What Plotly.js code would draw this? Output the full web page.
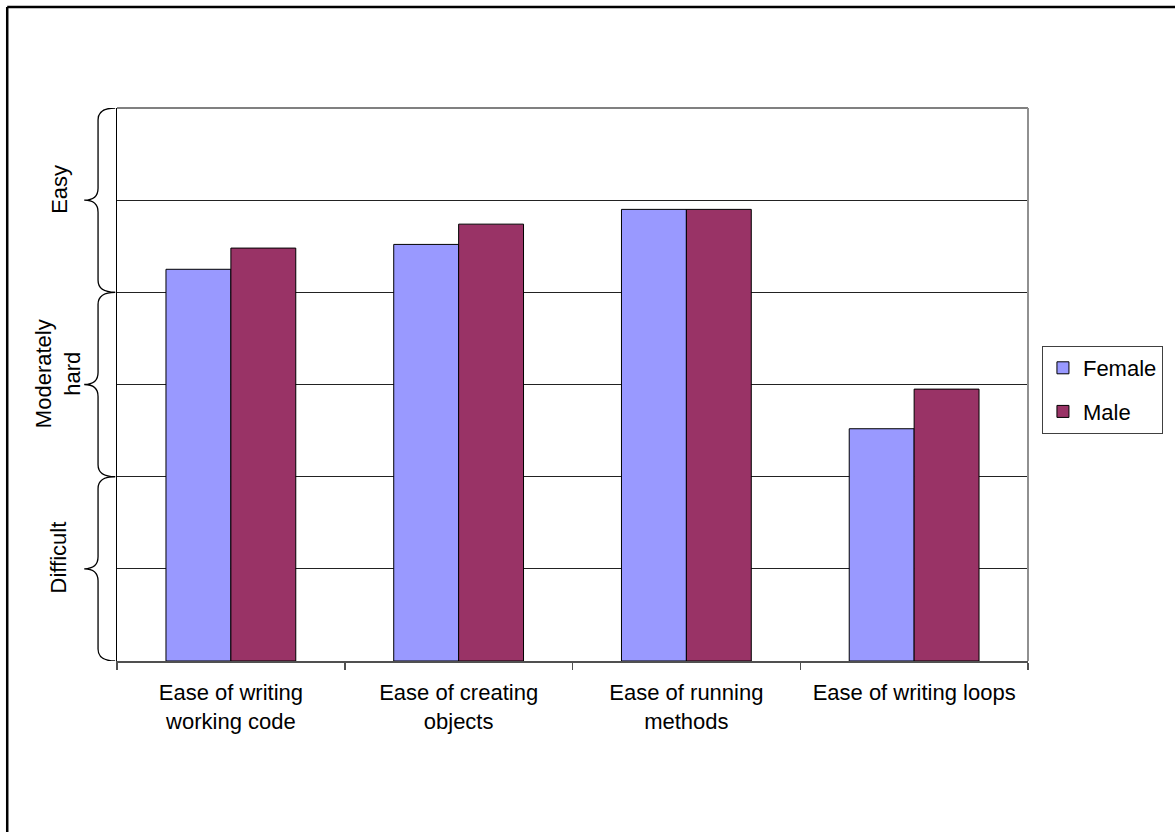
<!DOCTYPE html>
<html>
<head>
<meta charset="utf-8">
<script src="https://cdn.plot.ly/plotly-3.0.1.min.js"></script>
<style>html,body{margin:0;padding:0;background:#fff;}#chart{width:1175px;height:832px;}</style>
</head>
<body>
<div id="chart"></div>
<script>
const categories = ["Ease of writing<br>working code", "Ease of creating<br>objects", "Ease of running<br>methods", "Ease of writing loops"];
const femaleValues = [4.25, 4.52, 4.90, 2.52];
const maleValues = [4.48, 4.74, 4.90, 2.95];
const bands = [
  {label: "Difficult", from: 0, to: 2},
  {label: "Moderately<br>hard", from: 2, to: 4},
  {label: "Easy", from: 4, to: 6}
];

const FONT = "Liberation Sans, Arial, sans-serif";

const traces = [
  {type: "bar", name: "Female", x: categories, y: femaleValues, legendgroup: "f",
   marker: {color: "#9999FF", line: {color: "#000000", width: 1}}, hoverinfo: "y"},
  {type: "bar", name: "Male", x: categories, y: maleValues, legendgroup: "m",
   marker: {color: "#993366", line: {color: "#000000", width: 1}}, hoverinfo: "y"}
];

// brace geometry (paper x)
const xe = -0.002, xv = -0.0208, xt = -0.036, r = 0.13;
const shapes = [];
const annotations = [];
bands.forEach(function (b) {
  const y0 = b.from, y1 = b.to, ym = (y0 + y1) / 2;
  const p = "M " + xe + "," + y1 +
    " Q " + xv + "," + y1 + " " + xv + "," + (y1 - r) +
    " L " + xv + "," + (ym + r) +
    " Q " + xv + "," + ym + " " + xt + "," + ym +
    " Q " + xv + "," + ym + " " + xv + "," + (ym - r) +
    " L " + xv + "," + (y0 + r) +
    " Q " + xv + "," + y0 + " " + xe + "," + y0;
  shapes.push({type: "path", xref: "paper", yref: "y", path: p, line: {color: "#000", width: 1.3}});
  annotations.push({xref: "paper", yref: "y", x: -0.064, y: ym + 0.12, text: b.label,
    textangle: -90, showarrow: false, xanchor: "center", yanchor: "middle",
    font: {family: FONT, size: 22, color: "#000"}});
});
// plot-area top & right borders (gray)
shapes.push({type: "line", xref: "paper", yref: "paper", x0: 0, x1: 1, y0: 1, y1: 1, line: {color: "#808080", width: 2}});
shapes.push({type: "line", xref: "paper", yref: "paper", x0: 1, x1: 1, y0: 0, y1: 1, line: {color: "#909090", width: 2}});
// outer chart border (top & left visible)
shapes.push({type: "line", xref: "paper", yref: "paper", x0: -0.1205, x1: 1.3, y0: 1.1826, y1: 1.1826, line: {color: "#000", width: 2.5}});
shapes.push({type: "line", xref: "paper", yref: "paper", x0: -0.1205, x1: -0.1205, y0: 1.1826, y1: -0.5, line: {color: "#000", width: 2.5}});

const layout = {
  width: 1175, height: 832,
  margin: {l: 117, r: 145, t: 108, b: 171, pad: 0},
  paper_bgcolor: "#fff", plot_bgcolor: "#fff",
  font: {family: FONT, size: 22, color: "#000"},
  barmode: "group", bargap: 0.43, bargroupgap: 0,
  showlegend: true,
  legend: {x: 1.0153, y: 0.5696, xanchor: "left", yanchor: "top",
    bordercolor: "#404040", borderwidth: 1, bgcolor: "#fff",
    traceorder: "grouped", tracegroupgap: 12,
    font: {family: FONT, size: 22, color: "#000"}},
  xaxis: {type: "category", showgrid: false, zeroline: false,
    showline: true, linecolor: "#505050", linewidth: 1.5,
    ticks: "outside", tickson: "boundaries", ticklen: 7, tickcolor: "#505050", tickwidth: 1.5,
    ticklabelstandoff: 11,
    tickfont: {family: FONT, size: 22, color: "#000"}},
  yaxis: {range: [0, 6], tickvals: [1, 2, 3, 4, 5], showticklabels: false, ticks: "",
    showgrid: true, gridcolor: "#222222", gridwidth: 1, zeroline: false,
    showline: true, linecolor: "#000", linewidth: 1.5, fixedrange: true},
  shapes: shapes,
  annotations: annotations
};

Plotly.newPlot("chart", traces, layout, {displayModeBar: false, staticPlot: true});
</script>
</body>
</html>
